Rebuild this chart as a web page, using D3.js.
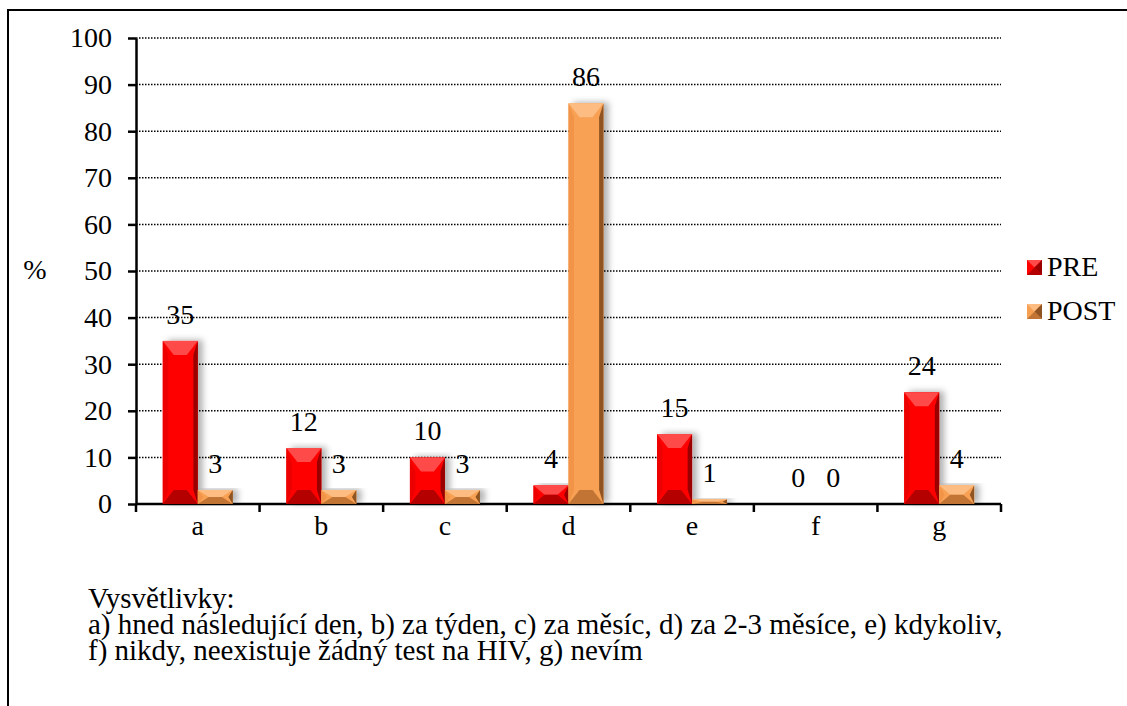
<!DOCTYPE html>
<html>
<head>
<meta charset="utf-8">
<script src="https://cdn.jsdelivr.net/npm/d3@7"></script>
</head>
<body style="margin:0">
<svg id="chart" width="1127" height="706"></svg>
<script>
// Answers to "when to take an HIV test" before and after the course (%)
const categories = ["a", "b", "c", "d", "e", "f", "g"];
const seriesNames = ["PRE", "POST"];
const preValues = [35, 12, 10, 4, 15, 0, 24];
const postValues = [3, 3, 3, 86, 1, 0, 4];
const yTicks = [0, 10, 20, 30, 40, 50, 60, 70, 80, 90, 100];
const noteLines = [
  "Vysvětlivky:",
  "a) hned následující den, b) za týden, c) za měsíc, d) za 2-3 měsíce, e) kdykoliv,",
  "f) nikdy, neexistuje žádný test na HIV, g) nevím"
];

const FS = 28;
const NOTE_FS = 29;

const svg = d3.select("#chart");
const plot = { left: 136, right: 1001, top: 38, bottom: 504 };

// bevel palettes per series
const palette = {
  PRE:  { base: "#ff0000", top: "#ff4a4a", bottom: "#b50000", left: "#ec0000", right: "#9a0000" },
  POST: { base: "#f8a052", top: "#fcbc82", bottom: "#c27434", left: "#f29448", right: "#8f5421" }
};

const defs = svg.append("defs");
const shadow = defs.append("filter").attr("id", "barShadow")
  .attr("x", "-30%").attr("y", "-10%").attr("width", "180%").attr("height", "120%");
shadow.append("feDropShadow").attr("dx", 5).attr("dy", -1).attr("stdDeviation", 3)
  .attr("flood-color", "#000").attr("flood-opacity", 0.3);

// outer frame (top and left edges)
svg.append("path").attr("d", "M8,706 L8,10 L1127,10")
  .attr("fill", "none").attr("stroke", "#000").attr("stroke-width", 2);

const x = d3.scaleBand().domain(categories).range([plot.left, plot.right]).padding(0);
const barW = 35;
const pad = (x.bandwidth() / barW - 2) / 2;
const xs = d3.scaleBand().domain(seriesNames).range([0, x.bandwidth()])
  .paddingInner(0).paddingOuter(pad);
const y = d3.scaleLinear().domain([0, 100]).range([plot.bottom, plot.top]);

// dotted gridlines
svg.append("g").selectAll("line").data(yTicks.filter(t => t > 0)).join("line")
  .attr("x1", plot.left).attr("x2", plot.right)
  .attr("y1", d => y(d)).attr("y2", d => y(d))
  .attr("stroke", "#000").attr("stroke-width", 1.5).attr("stroke-dasharray", "1.5,1.5");

// y axis
const yAxis = svg.append("g").attr("transform", `translate(${plot.left},0)`)
  .call(d3.axisLeft(y).tickValues(yTicks).tickSize(8).tickPadding(16).tickSizeOuter(0));
yAxis.attr("font-size", FS).attr("font-family", null);
yAxis.select(".domain").attr("stroke-width", 2.5);
yAxis.selectAll(".tick line").attr("stroke-width", 2.5);

// x axis with ticks at category boundaries
const xAxisG = svg.append("g").attr("transform", `translate(0,${plot.bottom})`);
xAxisG.append("line").attr("x1", plot.left).attr("x2", plot.right)
  .attr("stroke", "#000").attr("stroke-width", 2.5);
const bounds = categories.map(c => x(c)).concat([plot.right]);
xAxisG.selectAll("line.tk").data(bounds).join("line").attr("class", "tk")
  .attr("x1", d => d).attr("x2", d => d).attr("y1", 0).attr("y2", 8)
  .attr("stroke", "#000").attr("stroke-width", 2.5);
xAxisG.selectAll("text").data(categories).join("text")
  .attr("x", d => x(d) + x.bandwidth() / 2).attr("y", 31)
  .attr("text-anchor", "middle").attr("font-size", FS).text(d => d);

// axis unit
svg.append("text").attr("x", 35).attr("y", 279).attr("text-anchor", "middle")
  .attr("font-size", FS).text("%");

// bevelled bar
function bevelBar(g, bx, by, w, h, pal) {
  if (h <= 0) return;
  const bvx = Math.min(11, w / 2), bvy = Math.min(14, h / 2);
  g.append("rect").attr("x", bx).attr("y", by).attr("width", w).attr("height", h)
    .attr("fill", pal.base).attr("filter", "url(#barShadow)");
  const poly = pts => g.append("polygon").attr("points", pts.map(p => p.join(",")).join(" "));
  poly([[bx, by], [bx + bvx * 0.5, by + bvy], [bx + bvx * 0.5, by + h - bvy], [bx, by + h]]).attr("fill", pal.left);
  poly([[bx + w, by], [bx + w - bvx * 0.4, by + bvy], [bx + w - bvx * 0.4, by + h - bvy], [bx + w, by + h]]).attr("fill", pal.right);
  poly([[bx, by], [bx + w, by], [bx + w - bvx, by + bvy], [bx + bvx, by + bvy]]).attr("fill", pal.top);
  poly([[bx, by + h], [bx + w, by + h], [bx + w - bvx, by + h - bvy], [bx + bvx, by + h - bvy]]).attr("fill", pal.bottom);
}

const rows = categories.map((c, i) => ({ cat: c, vals: [
  { s: "PRE", v: preValues[i] }, { s: "POST", v: postValues[i] }
]}));

const barsG = svg.append("g");
rows.forEach(r => {
  r.vals.forEach(d => {
    const bx = x(r.cat) + xs(d.s);
    bevelBar(barsG, bx, y(d.v), xs.bandwidth(), y(0) - y(d.v), palette[d.s]);
  });
});

// value labels
const labG = svg.append("g");
rows.forEach(r => {
  r.vals.forEach(d => {
    labG.append("text")
      .attr("x", x(r.cat) + xs(d.s) + xs.bandwidth() / 2)
      .attr("y", y(d.v) - 17)
      .attr("text-anchor", "middle").attr("font-size", FS).text(d.v);
  });
});

// legend
const leg = svg.append("g");
seriesNames.forEach((s, i) => {
  const ly = 260 + i * 44;
  const pal = palette[s];
  const sz = 15, lx = 1027;
  leg.append("rect").attr("x", lx).attr("y", ly).attr("width", sz).attr("height", sz).attr("fill", pal.base);
  const poly = pts => leg.append("polygon").attr("points", pts.map(p => p.join(",")).join(" "));
  poly([[lx, ly], [lx + sz, ly], [lx + sz / 2, ly + sz / 2]]).attr("fill", pal.top);
  poly([[lx, ly + sz], [lx + sz, ly + sz], [lx + sz / 2, ly + sz / 2]]).attr("fill", pal.bottom);
  poly([[lx + sz, ly], [lx + sz, ly + sz], [lx + sz / 2, ly + sz / 2]]).attr("fill", pal.right);
  leg.append("text").attr("x", lx + sz + 5).attr("y", ly + 16).attr("font-size", FS).text(s);
});

// explanatory note
svg.append("g").selectAll("text").data(noteLines).join("text")
  .attr("x", 88).attr("y", (d, i) => 608 + i * 26)
  .attr("font-size", NOTE_FS).text(d => d);

// every label uses the same serif face
svg.selectAll("text")
  .style("font-family", "Liberation Serif")
  .attr("fill", "#000");
</script>
</body>
</html>
